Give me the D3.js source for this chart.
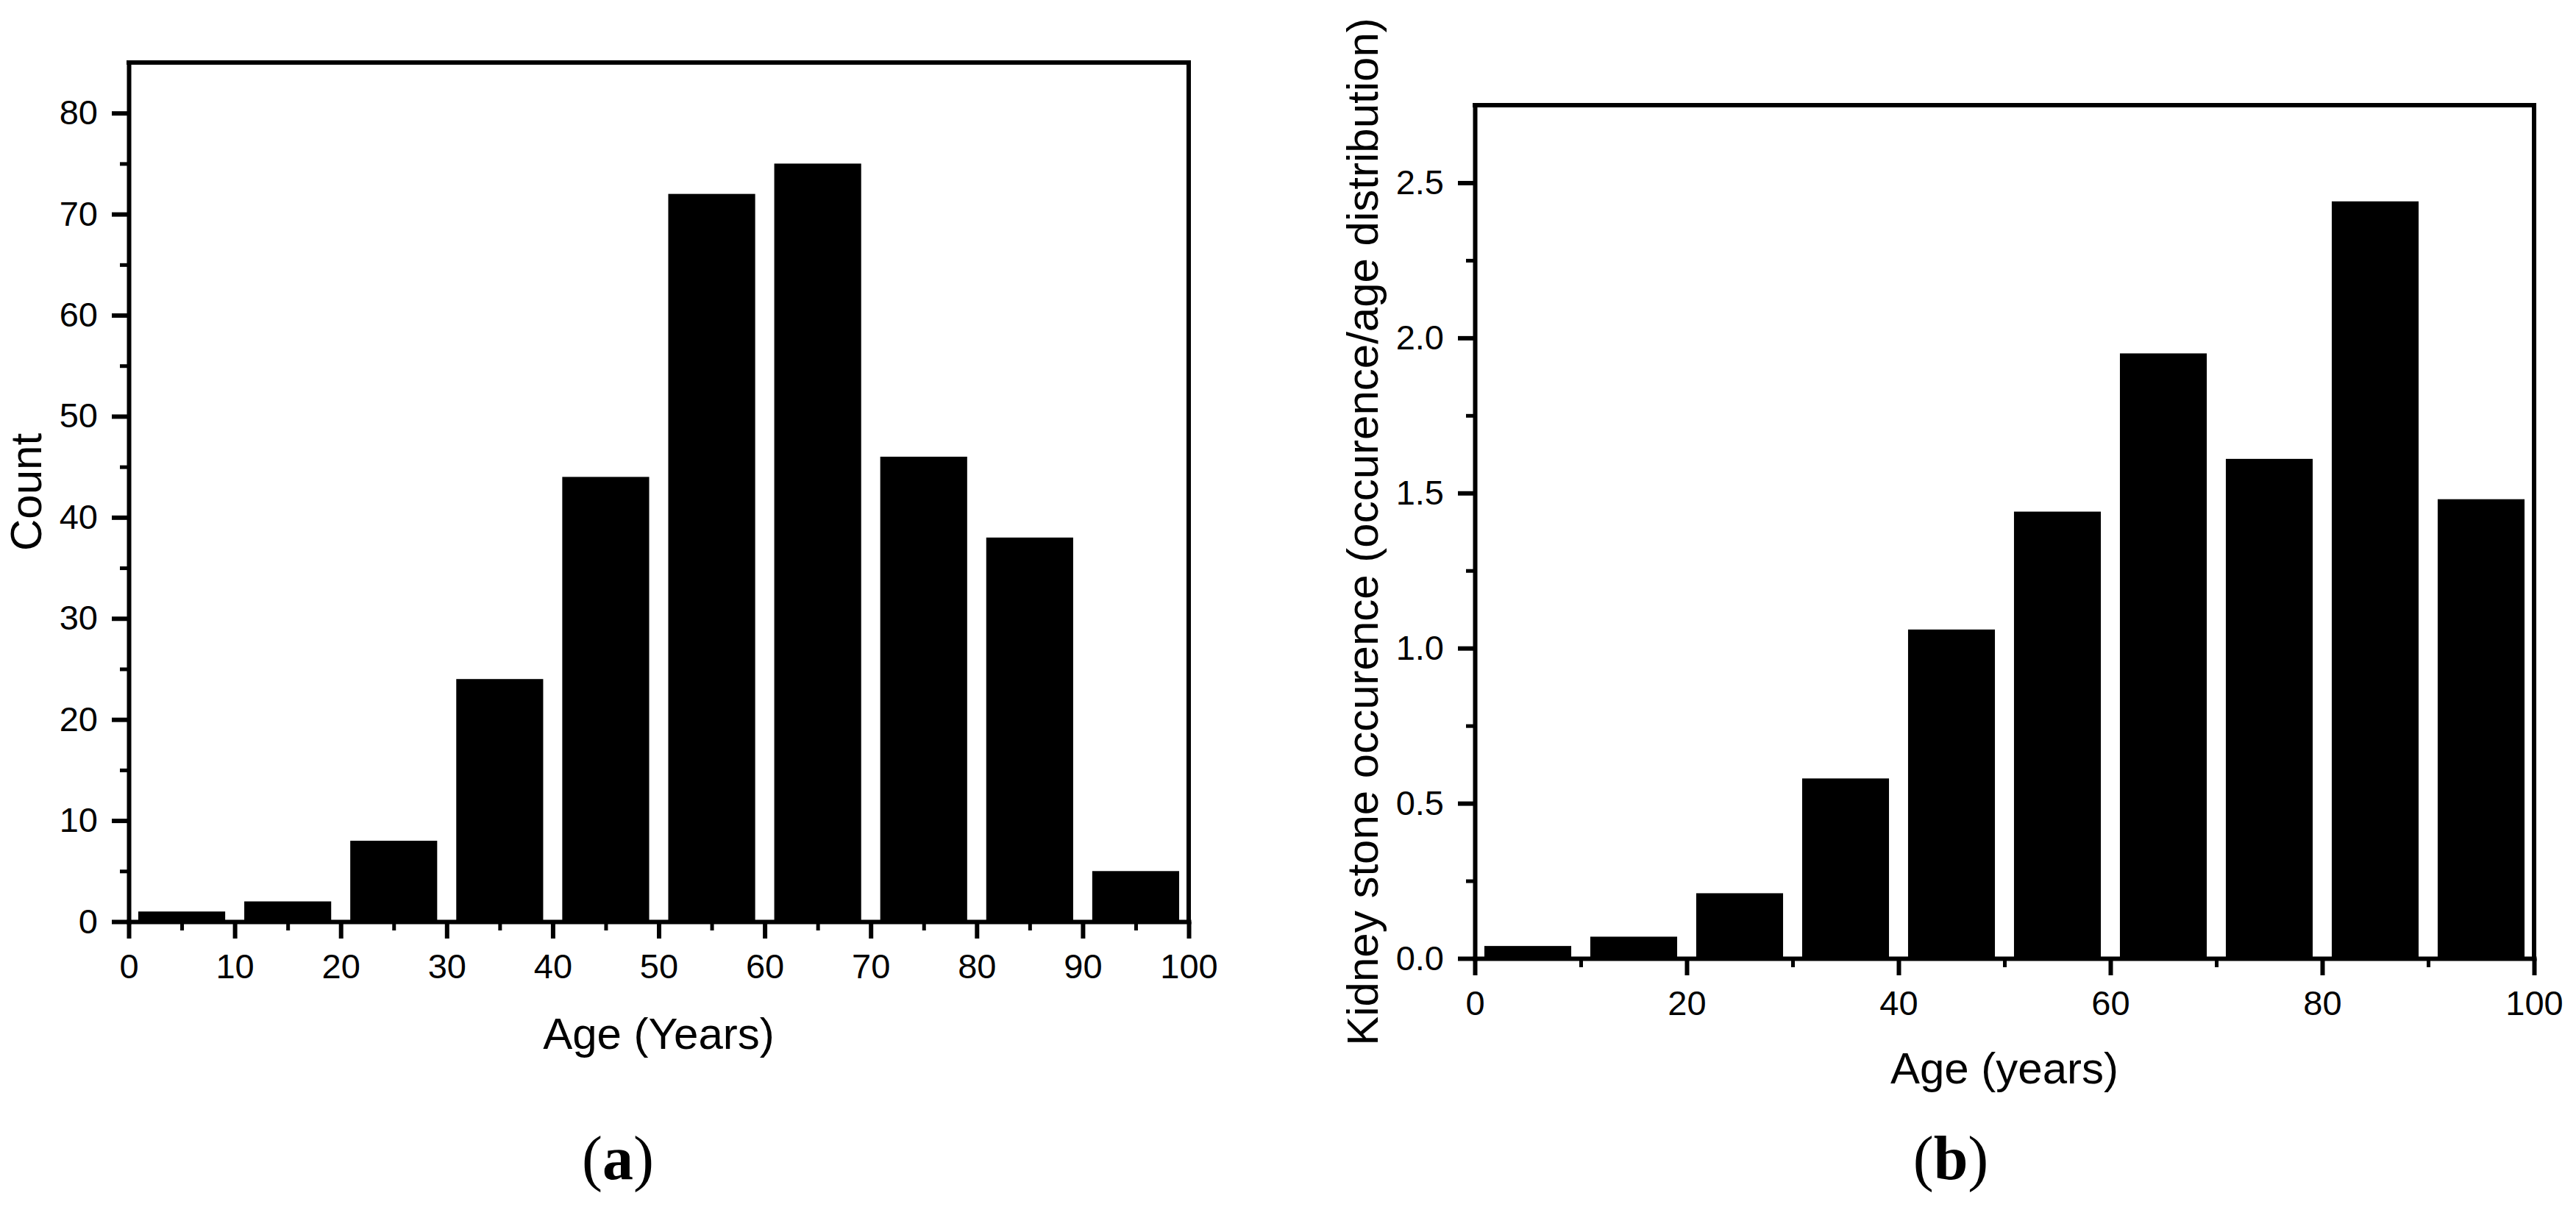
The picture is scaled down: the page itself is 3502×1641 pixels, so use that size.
<!DOCTYPE html>
<html>
<head>
<meta charset="utf-8">
<script src="https://cdn.jsdelivr.net/npm/d3@7"></script>
<style>
    body { margin: 0; background: #fff; }
    .axis text { font-family: "Liberation Sans", Arial, sans-serif; font-size: 47px; fill: #000; }
    .axis path, .axis line { stroke: #000; }
    .label { font-family: "Liberation Sans", Arial, sans-serif; font-size: 60px; fill: #000; }
    .caption { font-family: "Liberation Serif", "Times New Roman", serif; font-size: 84px; fill: #000; }
</style>
</head>
<body>
<script>
// age bins (centre of each 10-year bin)
const binCenters = [5, 15, 25, 35, 45, 55, 65, 75, 85, 95]
// (a) number of patients per bin
const countValues = [1, 2, 8, 24, 44, 72, 75, 46, 38, 5]
// (b) occurence normalised by age distribution
const occurenceValues = [0.04, 0.07, 0.21, 0.58, 1.06, 1.44, 1.95, 1.61, 2.44, 1.48]

const xTicksA = [0, 10, 20, 30, 40, 50, 60, 70, 80, 90, 100]
const xMinorA = [5, 15, 25, 35, 45, 55, 65, 75, 85, 95]
const yTicksA = [0, 10, 20, 30, 40, 50, 60, 70, 80]
const yMinorA = [5, 15, 25, 35, 45, 55, 65, 75]

const xTicksB = [0, 20, 40, 60, 80, 100]
const xMinorB = [10, 30, 50, 70, 90]
const yTicksB = [0, 0.5, 1.0, 1.5, 2.0, 2.5]
const yMinorB = [0.25, 0.75, 1.25, 1.75, 2.25]

const W = 3502, H = 1641
const barWidth = 8.2 // years

let svg = d3.select("body").append("svg")
    .attr("width", W)
    .attr("height", H)

const drawPanel = function(p) {
    let x = d3.scaleLinear().domain([0, 100]).range([p.left, p.right])
    let y = d3.scaleLinear().domain([0, p.yMax]).range([p.bottom, p.top])
    let g = svg.append("g")

    // bars
    g.append("g")
        .selectAll("rect")
        .data(p.values).enter()
        .append("rect")
        .attr("fill", "#000")
        .attr("x", (d, i) => x(binCenters[i] - barWidth / 2))
        .attr("width", (d, i) => x(barWidth) - x(0))
        .attr("y", d => y(d))
        .attr("height", d => y(0) - y(d))

    // frame: top and right
    g.append("line")
        .attr("x1", p.left).attr("x2", p.right)
        .attr("y1", p.top).attr("y2", p.top)
        .attr("stroke", "#000").attr("stroke-width", 6).attr("stroke-linecap", "square")
    g.append("line")
        .attr("x1", p.right).attr("x2", p.right)
        .attr("y1", p.top).attr("y2", p.bottom)
        .attr("stroke", "#000").attr("stroke-width", 6).attr("stroke-linecap", "square")

    // minor ticks
    g.append("g")
        .attr("class", "axis")
        .attr("transform", "translate(0," + p.bottom + ")")
        .call(d3.axisBottom(x).tickValues(p.xMinor).tickSize(12).tickSizeOuter(0).tickFormat(""))
        .call(s => s.select(".domain").remove())
        .selectAll("line").attr("stroke-width", 5)
    g.append("g")
        .attr("class", "axis")
        .attr("transform", "translate(" + p.left + ",0)")
        .call(d3.axisLeft(y).tickValues(p.yMinor).tickSize(12).tickSizeOuter(0).tickFormat(""))
        .call(s => s.select(".domain").remove())
        .selectAll("line").attr("stroke-width", 5)

    // major axes
    g.append("g")
        .attr("class", "axis axis--x")
        .attr("transform", "translate(0," + p.bottom + ")")
        .call(d3.axisBottom(x).tickValues(p.xTicks).tickSize(23).tickPadding(21).tickSizeOuter(0))
        .call(s => s.select(".domain").attr("stroke-width", 6).attr("stroke-linecap", "square"))
        .call(s => s.selectAll(".tick line").attr("stroke-width", 6))
    g.append("g")
        .attr("class", "axis axis--y")
        .attr("transform", "translate(" + p.left + ",0)")
        .call(d3.axisLeft(y).tickValues(p.yTicks).tickSize(23).tickPadding(19).tickSizeOuter(0).tickFormat(p.yFormat))
        .call(s => s.select(".domain").attr("stroke-width", 6).attr("stroke-linecap", "square"))
        .call(s => s.selectAll(".tick line").attr("stroke-width", 6))
    g.selectAll(".axis text").attr("font-size", null).attr("font-family", null)

    // titles
    g.append("text")
        .attr("class", "label")
        .attr("text-anchor", "middle")
        .attr("x", (p.left + p.right) / 2)
        .attr("y", p.xTitleY)
        .text(p.xTitle)
    g.append("text")
        .attr("class", "label")
        .attr("text-anchor", "middle")
        .attr("transform", "translate(" + p.yTitleX + "," + (p.top + p.bottom) / 2 + ") rotate(-90)")
        .text(p.yTitle)

    let cap = g.append("text")
        .attr("class", "caption")
        .attr("text-anchor", "middle")
        .attr("x", p.capX)
        .attr("y", 1603)
    cap.append("tspan").text("(")
    cap.append("tspan").attr("font-weight", "bold").text(p.cap)
    cap.append("tspan").text(")")
}

drawPanel({
    left: 175, right: 1616, top: 85, bottom: 1253,
    yMax: 85, values: countValues,
    xTicks: xTicksA, xMinor: xMinorA, yTicks: yTicksA, yMinor: yMinorA,
    yFormat: d3.format("d"),
    xTitle: "Age (Years)", xTitleY: 1426,
    yTitle: "Count", yTitleX: 56,
    cap: "a", capX: 840
})

drawPanel({
    left: 2005, right: 3445, top: 143, bottom: 1303,
    yMax: 2.75, values: occurenceValues,
    xTicks: xTicksB, xMinor: xMinorB, yTicks: yTicksB, yMinor: yMinorB,
    yFormat: d3.format(".1f"),
    xTitle: "Age (years)", xTitleY: 1473,
    yTitle: "Kidney stone occurence (occurence/age distribution)", yTitleX: 1873,
    cap: "b", capX: 2652
})
</script>
</body>
</html>
